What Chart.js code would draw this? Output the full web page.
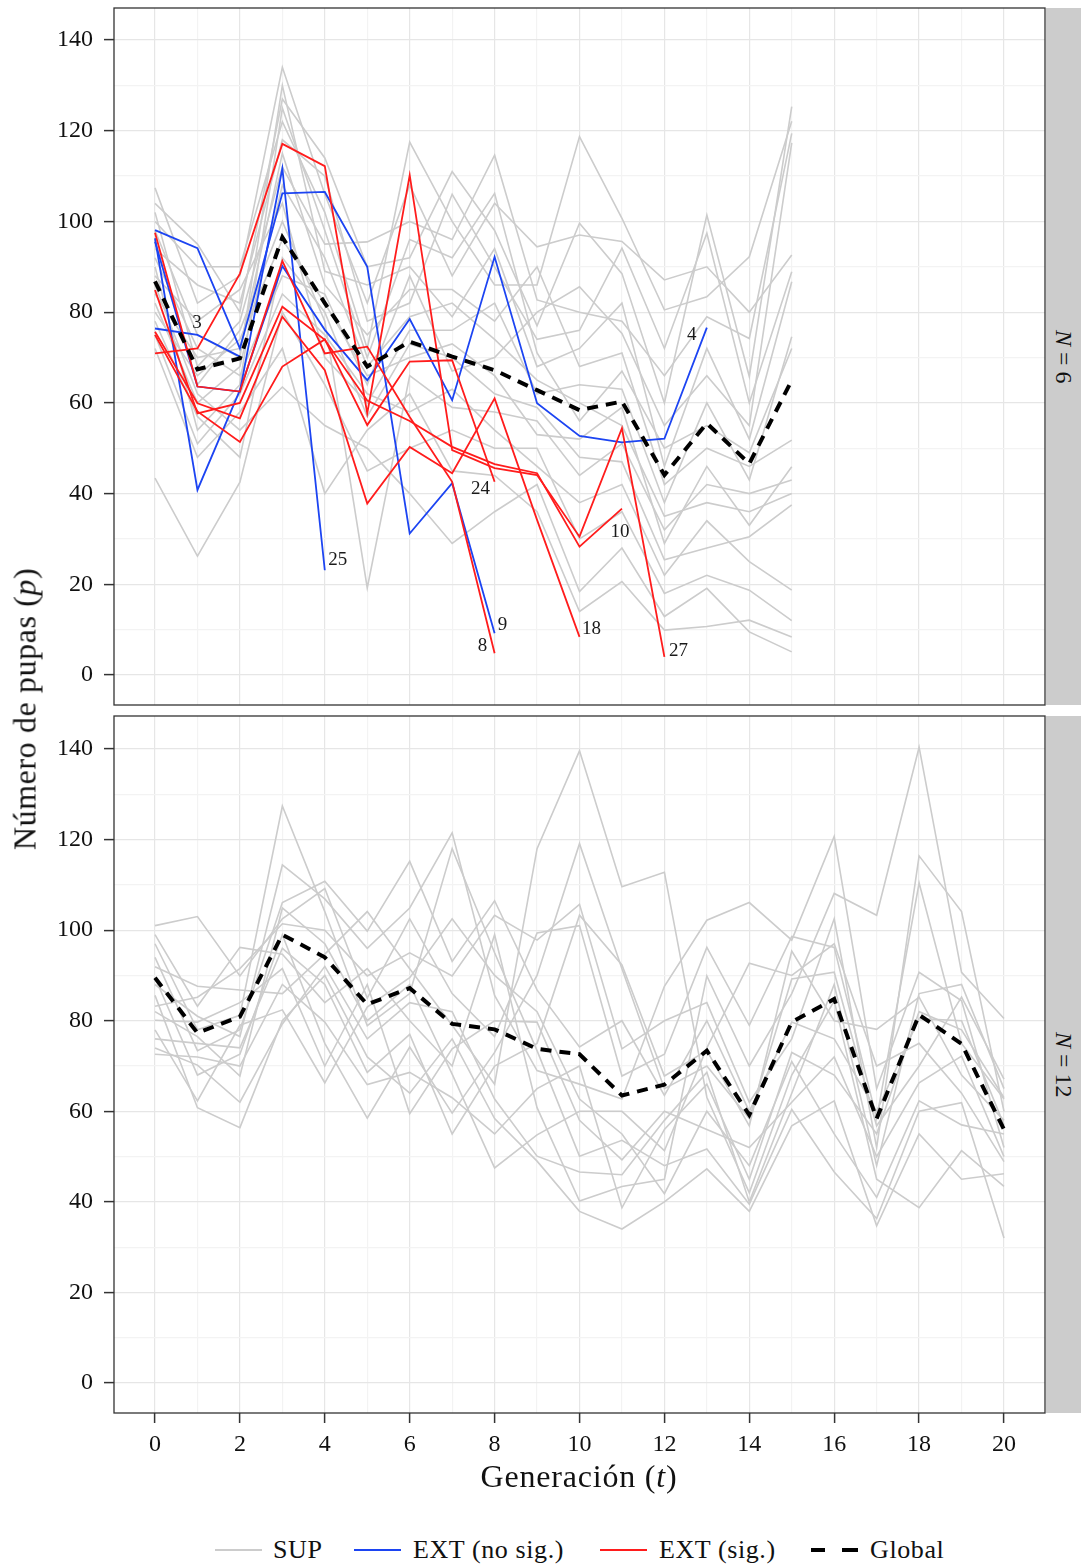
<!DOCTYPE html>
<html>
<head>
<meta charset="utf-8">
<script src="https://cdn.jsdelivr.net/npm/chart.js@4.4.0/dist/chart.umd.min.js"></script>
<style>
  html, body { margin: 0; padding: 0; background: #fff; }
  body { width: 1081px; height: 1566px; position: relative; overflow: hidden;
         font-family: "Liberation Serif", serif; color: #111; }
  canvas { position: absolute; left: 0; }
  #panelN6 { top: 0; }
  #panelN12 { top: 700px; }
  .strip { position: absolute; left: 1046px; width: 35px; background: #cccccc;
           display: flex; align-items: center; justify-content: center; }
  .strip span { writing-mode: vertical-rl; font-size: 24px; white-space: nowrap; }
  #ytitle { position: absolute; left: 25px; top: 709px; transform: translate(-50%, -50%) rotate(180deg);
            writing-mode: vertical-rl; font-size: 32px; letter-spacing: 0.6px; white-space: nowrap; }
  #xtitle { position: absolute; left: 579px; top: 1476px; transform: translate(-50%, -50%);
            font-size: 32px; letter-spacing: 0.8px; white-space: nowrap; }
  .swatch { position: absolute; width: 47px; }
  .ktext { position: absolute; top: 1533px; line-height: 34px; font-size: 26px; letter-spacing: 0.6px; white-space: nowrap; }
</style>
</head>
<body>
<canvas id="panelN6" width="1081" height="720"></canvas>
<canvas id="panelN12" width="1081" height="800"></canvas>

<div class="strip" style="top:8px;height:697px"><span><i>N</i> = 6</span></div>
<div class="strip" style="top:716px;height:697px"><span><i>N</i> = 12</span></div>

<div id="ytitle">Número de pupas (<i>p</i>)</div>
<div id="xtitle">Generación (<i>t</i>)</div>

<!-- legend -->
<div class="swatch" style="left:215px;top:1549px;height:2px;background:#cccccc"></div>
<div class="ktext" style="left:273px">SUP</div>
<div class="swatch" style="left:354px;top:1549px;height:2px;background:#1c44f2"></div>
<div class="ktext" style="left:413px">EXT (no sig.)</div>
<div class="swatch" style="left:600px;top:1549px;height:2px;background:#ff1c1c"></div>
<div class="ktext" style="left:659px">EXT (sig.)</div>
<div class="swatch" style="left:811px;top:1548px;height:4px;background:linear-gradient(to right,#000 0 14px,transparent 14px 31px,#000 31px 47px)"></div>
<div class="ktext" style="left:870px">Global</div>

<script>
// ---- axis ticks ----
const xTicks = [0,1,2,3,4,5,6,7,8,9,10,11,12,13,14,15,16,17,18,19,20];
const yTicks = [0,10,20,30,40,50,60,70,80,90,100,110,120,130,140];

// ---- N = 6: surviving replicates (one row per replicate, generation 0..15) ----
const supN6 = [
  [107.4, 82, 88, 134, 106, 82, 108, 88, 104, 94.4, 97, 95.6, 87.1, 90, 80, 92.6],
  [104, 95, 80, 127, 114, 90, 92, 111, 98, 77, 99.6, 88.5, 60, 101.4, 65.8, 125.3],
  [102, 68, 78, 112, 95, 95.5, 100, 96, 114.6, 82.7, 80, 78, 66, 79, 74.2, 119.4],
  [100, 90, 90, 122, 102, 72, 117.5, 100, 86, 86, 118.7, 100.7, 80.5, 83.4, 92.2, 122.1],
  [98, 75, 70, 130, 89, 86, 90, 79, 94, 68, 72, 82, 46, 72, 52, 86.7],
  [96, 64, 76, 100, 78, 19.2, 66, 59, 58, 56, 44, 51, 32, 42, 40, 43],
  [94, 86, 82, 118, 110, 78, 82, 106, 90, 74, 76, 94.1, 72, 97.4, 60, 88.9],
  [92, 72, 66, 88, 84, 64, 88, 67, 70, 80, 85.6, 75.3, 55, 66, 55, 117.3],
  [90, 54, 64, 125, 98, 70, 96, 92, 106.2, 71, 56, 67, 50, 55, 49, 72],
  [88, 78, 85, 104, 70, 60, 76, 76, 82, 62, 64, 63, 38, 60, 43, 74.6],
  [86, 62, 54, 63.5, 55, 50, 40, 29, 36, 42, 18.4, 28, 12.9, 19.1, 9.5, 5.1],
  [84, 70, 72, 115, 86, 75, 85, 85, 78, 90, 68, 71, 42, 50, 46, 51.8],
  [82, 60, 68, 108, 92, 68, 79, 82, 74, 65, 60, 55, 35, 38, 36, 40],
  [80, 66, 74, 96, 82, 66, 70, 73, 66, 53, 52, 59, 29, 46, 33, 45.9],
  [78, 57, 48, 92, 80, 57, 73, 70, 62, 59, 48, 47, 25.4, 28, 30.5, 37.5],
  [75, 51, 62, 84, 75, 62, 58, 63, 54, 46, 38, 42, 22, 34, 25, 18.7],
  [72, 48, 58, 72, 40, 54, 62, 45, 44, 36, 14, 20.6, 9.9, 10.7, 12.1, 8.4],
  [43.4, 26.2, 42.5, 80, 64, 45, 50, 54, 50, 50, 30, 36, 18, 22, 18.7, 12]
];

// ---- N = 6: extinct replicates, no significant trend ----
const extNoSigIds = ['3', '4', '9', '25'];
const extNoSigN6 = [
  [76.4, 75.0, 70.2],
  [96.3, 40.8, 62.8, 90.2, 76.1, 65.0, 78.5, 60.6, 92.2, 59.9, 52.7, 51.3, 52.1, 76.6],
  [98.1, 94.1, 72.0, 106.2, 106.5, 90.0, 31.2, 42.3, 9.2],
  [95.5, 63.6, 62.5, 111.7, 23.1]
];

// ---- N = 6: extinct replicates, significant trend ----
const extSigIds = ['8', '10', '18', '24', '27'];
const extSigN6 = [
  [97.5, 63.6, 62.5, 91.3, 70.9, 72.4, 56.9, 42.6, 4.8],
  [84.9, 57.7, 60.0, 81.2, 73.9, 60.5, 56.0, 50.3, 46.5, 44.5, 28.3, 36.7],
  [75.7, 59.9, 56.6, 79.0, 67.2, 37.8, 50.3, 44.5, 61.0, 34.2, 8.4],
  [75.0, 58.1, 51.4, 68.0, 74.0, 55.1, 69.1, 69.4, 42.6],
  [70.9, 72.0, 88.5, 117.1, 112.2, 57.7, 110.2, 49.6, 45.6, 44.1, 30.5, 54.4, 4.0]
];

// ---- N = 6: mean over all replicates ----
const globalN6 = [86.8, 67.4, 69.8, 96.5, 82.0, 68.0, 73.5, 70.2, 67.2, 62.8, 58.4, 60.3, 44.1, 55.5, 46.6, 65.0];

// ---- N = 12: surviving replicates (generation 0..20) ----
const supN12 = [
  [101, 103, 89.9, 102.5, 109.2, 85, 102.5, 86, 76.5, 99.4, 101, 67.8, 72.6, 96.2, 79, 98.6, 96.2, 58.4, 110.4, 75, 62.7],
  [99, 83.2, 96.2, 94.7, 84, 91.5, 80, 70, 99, 60.8, 40.2, 43.4, 45, 89.9, 70, 86, 108.1, 103.3, 140.4, 90.7, 80.5],
  [97, 78, 81.2, 127.4, 104.1, 78.9, 86, 118, 95, 73.4, 50.1, 53.6, 48, 51.7, 39.5, 60.4, 46.6, 36.3, 60, 61.9, 32],
  [94, 73.4, 78, 106.1, 110.8, 99.8, 115.2, 93.1, 106.5, 86.8, 74.2, 80, 63.5, 80, 60, 79.7, 76, 60, 80.5, 80, 57],
  [91.9, 87.6, 86.8, 86, 94.7, 104.1, 91.5, 79, 66, 118, 139.6, 109.6, 112.8, 63.1, 42, 68, 84.4, 45, 38.7, 51.3, 43.4],
  [89.5, 68, 72.6, 99, 75, 58.5, 74.2, 59.6, 73, 90, 119.1, 91.5, 65, 70, 58.4, 89.2, 90.7, 56.8, 70, 85.2, 67.1],
  [88, 81, 76.5, 114.4, 106.9, 96, 104.9, 121.5, 85.6, 69, 66, 62.7, 87.6, 102.2, 106.1, 97.8, 120.7, 65, 90.7, 84.4, 52],
  [85.6, 60.8, 56.4, 80, 90, 72, 64, 76, 58.4, 49, 37.9, 34, 40, 47.3, 37.9, 56.8, 62.3, 34.7, 55, 45, 46.2],
  [83.2, 85.2, 91.5, 101.4, 100, 89.9, 95, 89.9, 103.3, 97.8, 105.7, 73.8, 80, 84, 62, 76, 102.5, 52, 116.4, 104.1, 60],
  [82, 76.5, 67.8, 104.9, 97, 80, 88, 68.2, 47.5, 54.8, 60, 60, 51.3, 74, 92.7, 90, 97, 70, 75, 64, 48.9],
  [80.1, 79.7, 84, 91.5, 70, 88, 59.5, 73.8, 80, 79.7, 58, 49.3, 60, 56, 52, 62, 72, 50, 66.3, 72.2, 50],
  [78, 62.3, 79, 82.4, 66.3, 83, 89.5, 102.5, 90, 82, 62.7, 55, 41.8, 60, 48, 71, 55, 41, 62.3, 57, 55],
  [76, 75, 74, 96, 88, 68.6, 77, 55, 70, 75, 103.3, 92.3, 67.8, 73.4, 56.8, 95.4, 80, 78.1, 85.2, 68, 58],
  [74, 70.2, 62, 79.3, 92, 76, 84, 82, 62.7, 50.1, 46.6, 46, 58, 68.6, 40, 64, 88, 48, 86, 88, 65],
  [72.6, 72, 70, 88, 79.7, 65.9, 68.6, 63, 55, 65, 70, 38.7, 56, 66, 45, 73, 68, 55, 82, 78, 63]
];

// ---- N = 12: mean over all replicates ----
const globalN12 = [89.5, 77.3, 80.9, 99.0, 94.0, 83.6, 87.2, 79.3, 78.1, 73.8, 72.6, 63.5, 65.9, 73.4, 59.2, 79.7, 84.8, 58.4, 81.3, 74.9, 56.0];

// ---- styling ----
const FONT = '"Liberation Serif", serif';
const C_SUP = '#cccccc', C_NOSIG = '#1c44f2', C_SIG = '#ff1c1c';
const GRID_MAJOR = '#e6e6e6', GRID_MINOR = '#f3f3f3';
// pixel nudges for the replicate id labels placed at each extinct line's last point
const labelNudge = { '3': [-43, -34], '4': [-15, 7], '8': [-12, -7], '9': [8, -8], '10': [-2, 23],
                     '18': [12, -8], '24': [-14, 7], '25': [13, -10], '27': [14, -6] };

const pts = vals => vals.map((v, i) => ({ x: i, y: v }));

function thin(vals, color, order, id, width) {
  return { data: pts(vals), borderColor: color, borderWidth: width, pointRadius: 0,
           tension: 0, fill: false, order: order, endLabel: id };
}
function globalSet(vals) {
  return { data: pts(vals), borderColor: '#000', borderWidth: 4, borderDash: [11, 8],
           borderCapStyle: 'butt', pointRadius: 0, tension: 0, fill: false, order: 0 };
}

const frame = {
  id: 'frame',
  afterDraw(chart) {
    const { ctx, chartArea: a } = chart;
    ctx.save();
    ctx.strokeStyle = '#333';
    ctx.lineWidth = 1.3;
    ctx.strokeRect(a.left, a.top, a.right - a.left, a.bottom - a.top);
    ctx.restore();
  }
};

const endLabels = {
  id: 'endLabels',
  afterDatasetsDraw(chart) {
    const ctx = chart.ctx;
    ctx.save();
    ctx.font = '19px ' + FONT;
    ctx.fillStyle = '#1a1a1a';
    ctx.textAlign = 'center';
    ctx.textBaseline = 'middle';
    chart.data.datasets.forEach((ds, i) => {
      if (!ds.endLabel) return;
      const last = chart.getDatasetMeta(i).data.at(-1);
      const [dx, dy] = labelNudge[ds.endLabel];
      ctx.fillText(ds.endLabel, last.x + dx, last.y + dy);
    });
    ctx.restore();
  }
};

function xScale(showLabels, height) {
  return {
    type: 'linear', min: -0.966, max: 20.966,
    afterBuildTicks: s => { s.ticks = xTicks.map(v => ({ value: v })); },
    afterFit: s => { s.height = height; s.paddingLeft = 0; s.paddingRight = 0; },
    border: { display: false },
    grid: {
      color: c => (c.tick && c.tick.value % 2 === 0) ? GRID_MAJOR : GRID_MINOR,
      lineWidth: 1.2,
      drawTicks: showLabels, tickLength: 10, tickWidth: 1.5,
      tickColor: c => (c.tick && c.tick.value % 2 === 0) ? '#333' : 'rgba(0,0,0,0)'
    },
    ticks: { display: showLabels, autoSkip: false, maxRotation: 0, minRotation: 0, padding: 7,
             color: '#111', font: { family: FONT, size: 24 },
             callback: v => (v % 2 === 0 ? String(v) : '') }
  };
}
function yScale(min, max) {
  return {
    type: 'linear', min: min, max: max,
    afterBuildTicks: s => { s.ticks = yTicks.map(v => ({ value: v })); },
    afterFit: s => { s.width = 114; s.paddingTop = 0; s.paddingBottom = 0; },
    border: { display: false },
    grid: {
      color: c => (c.tick && c.tick.value % 20 === 0) ? GRID_MAJOR : GRID_MINOR,
      lineWidth: 1.2,
      drawTicks: true, tickLength: 10, tickWidth: 1.5,
      tickColor: c => (c.tick && c.tick.value % 20 === 0) ? '#333' : 'rgba(0,0,0,0)'
    },
    ticks: { autoSkip: false, padding: 11, color: '#111', font: { family: FONT, size: 24 },
             callback: v => (v % 20 === 0 ? String(v) : '') }
  };
}

function panel(canvasId, datasets, opts) {
  return new Chart(document.getElementById(canvasId), {
    type: 'line',
    data: { datasets: datasets },
    options: {
      responsive: false, animation: false, devicePixelRatio: 1, events: [],
      layout: { padding: { left: 0, right: 36, top: opts.padTop, bottom: 0 } },
      plugins: { legend: { display: false }, tooltip: { enabled: false } },
      scales: { x: xScale(opts.showX, opts.xHeight), y: yScale(opts.yMin, opts.yMax) }
    },
    plugins: [frame, endLabels]
  });
}

// N = 6 panel
const setsN6 = [globalSet(globalN6)]
  .concat(extSigN6.map((v, i) => thin(v, C_SIG, 1, extSigIds[i], 1.8)))
  .concat(extNoSigN6.map((v, i) => thin(v, C_NOSIG, 2, extNoSigIds[i], 1.8)))
  .concat(supN6.map(v => thin(v, C_SUP, 3, undefined, 1.6)));
panel('panelN6', setsN6, { padTop: 8, showX: false, xHeight: 15, yMin: -6.61, yMax: 147.06 });

// N = 12 panel
const setsN12 = [globalSet(globalN12)]
  .concat(supN12.map(v => thin(v, C_SUP, 3, undefined, 1.6)));
panel('panelN12', setsN12, { padTop: 16, showX: true, xHeight: 87, yMin: -6.62, yMax: 147.29 });
</script>
</body>
</html>
